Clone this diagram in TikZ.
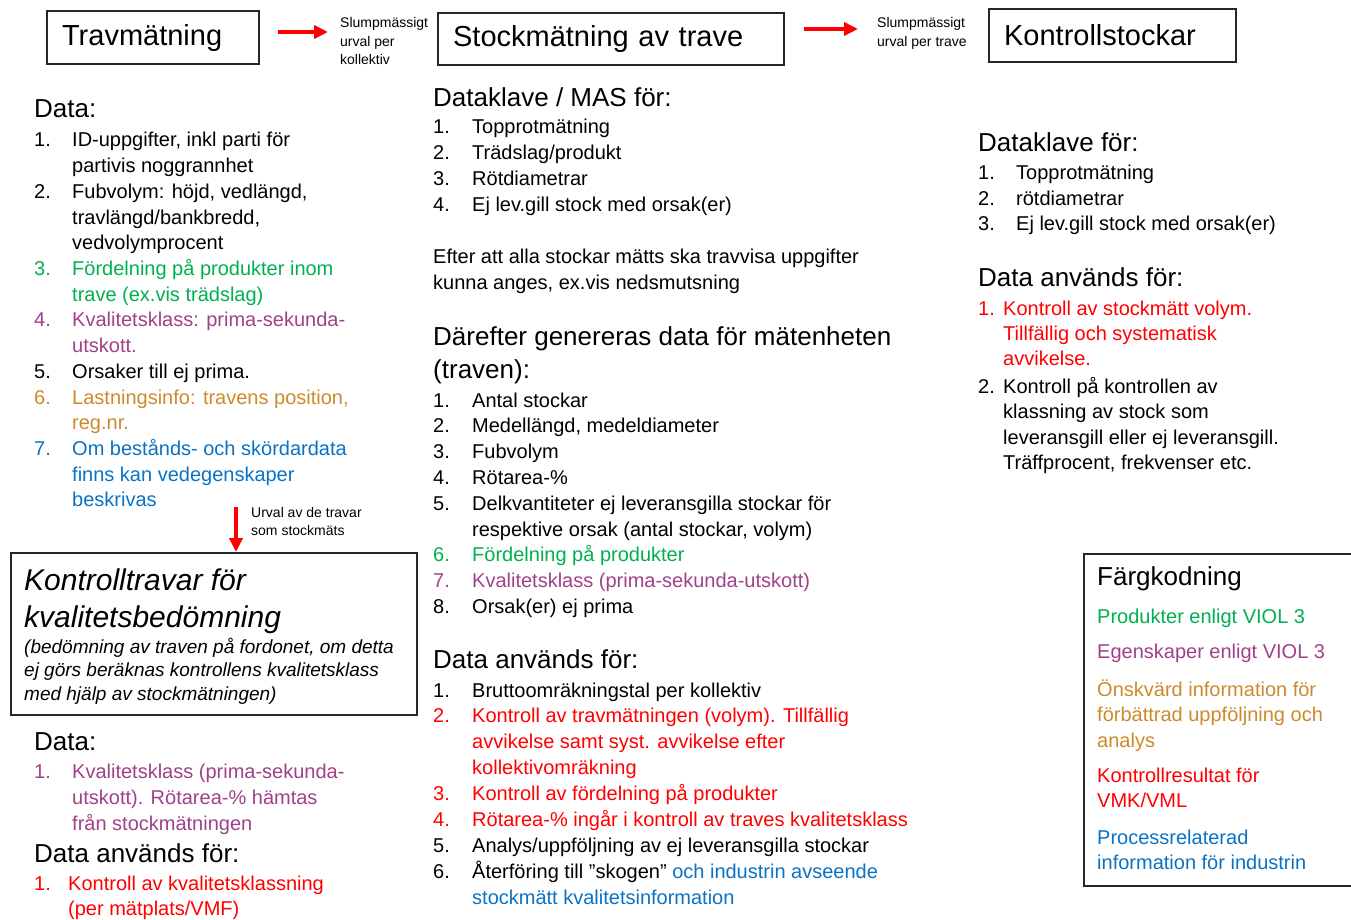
\documentclass[tikz,border=0pt]{standalone}
\usepackage{fontspec}
\setmainfont{Liberation Sans}
\usepackage{xcolor}
\usetikzlibrary{arrows.meta,positioning}
\definecolor{viol}{HTML}{00B050}
\definecolor{egen}{HTML}{A0408A}
\definecolor{onsk}{HTML}{CC8A2C}
\definecolor{ktrl}{HTML}{FF0000}
\definecolor{proc}{HTML}{0A72C4}
\newcommand{\fsz}[2]{\fontsize{#1}{#2}\selectfont}
\newcommand{\li}[3]{\textcolor{#1}{#2}&\textcolor{#1}{#3}\\}
\newcommand{\lines}[1]{\begin{tabular}[t]{@{}l@{}}#1\end{tabular}}

\begin{document}
\begin{tikzpicture}[x=1pt,y=-1pt,
  box/.style={draw=black!85,line width=2.2pt,anchor=north west,inner xsep=15pt,align=left,font=\fsz{29}{35}},
  frame/.style={draw=black!85,line width=2.2pt,anchor=north west,inner sep=0pt},
  head/.style={anchor=base west,inner sep=0pt,font=\fsz{26}{33}},
  txt/.style={anchor=base west,inner sep=0pt,font=\fsz{20}{25.8}},
  tag/.style={anchor=base west,inner sep=0pt,font=\fsz{14}{18.5}},
  red arrow/.style={-{Triangle[length=14pt,width=13pt]},ktrl,line width=4pt}]
\useasboundingbox (0,0) rectangle (1351,920);
\node[box,text width=182pt,minimum height=53pt] (trav) at (46,10) {Travmätning};
\node[box,text width=316pt,minimum height=52pt] (stock) at (437,12) {Stockmätning av trave};
\node[box,text width=217pt,minimum height=53pt] (kstock) at (988,8) {Kontrollstockar};
\coordinate (a1s) at (278,32);
\coordinate (a1e) at (328,32);
\coordinate (a2s) at (804,29);
\coordinate (a2e) at (858,29);
\draw[red arrow] (a1s) -- (a1e);
\draw[red arrow] (a2s) -- (a2e);
\node[tag] (tag1) at (340,28) {\lines{Slumpmässigt\\urval per\\kollektiv}};
\node[tag] (tag2) at (877,28) {\lines{Slumpmässigt\\urval per trave}};

\node[head] (ldata) at (34,118) {Data:};
\node[txt,font=\fsz{20}{25.7}] (llist) at (34,147) {\begin{tabular}[t]{@{}p{38pt}@{}l@{}}
\li{black}{1.}{ID-uppgifter, inkl parti för}
\li{black}{}{partivis noggrannhet}
\li{black}{2.}{Fubvolym: höjd, vedlängd,}
\li{black}{}{travlängd/bankbredd,}
\li{black}{}{vedvolymprocent}
\li{viol}{3.}{Fördelning på produkter inom}
\li{viol}{}{trave (ex.vis trädslag)}
\li{egen}{4.}{Kvalitetsklass: prima-sekunda-}
\li{egen}{}{utskott.}
\li{black}{5.}{Orsaker till ej prima.}
\li{onsk}{6.}{Lastningsinfo: travens position,}
\li{onsk}{}{reg.nr.}
\li{proc}{7.}{Om bestånds- och skördardata}
\li{proc}{}{finns kan vedegenskaper}
\li{proc}{}{beskrivas}
\end{tabular}};
\node[frame,minimum width=406pt,minimum height=162pt] (ktrav) at (10,552) {};
\coordinate (urval) at (236,507);
\draw[red arrow] (urval) -- (urval |- ktrav.north);
\node[tag] (urvaltag) at (251,517) {\lines{Urval av de travar\\som stockmäts}};
\node[txt,font=\itshape\fsz{30}{37}] (ktravtitle) at (24,590) {\lines{Kontrolltravar för\\kvalitetsbedömning}};
\node[txt,font=\itshape\fsz{19}{23.5}] (ktravsub) at (24,653) {\lines{(bedömning av traven på fordonet, om detta\\ej görs beräknas kontrollens kvalitetsklass\\med hjälp av stockmätningen)}};
\node[head] (ldata2) at (34,750) {Data:};
\node[txt,font=\fsz{20}{26}] (lq) at (34,778) {\begin{tabular}[t]{@{}p{38pt}@{}l@{}}
\li{egen}{1.}{Kvalitetsklass (prima-sekunda-}
\li{egen}{}{utskott). Rötarea-\% hämtas}
\li{egen}{}{från stockmätningen}
\end{tabular}};
\node[head] (lused) at (34,862) {Data används för:};
\node[txt,font=\fsz{20}{25.7}] (luse) at (34,890) {\begin{tabular}[t]{@{}p{34pt}@{}l@{}}
\li{ktrl}{1.}{Kontroll av kvalitetsklassning}
\li{ktrl}{}{(per mätplats/VMF)}
\end{tabular}};

\node[head] (mdata) at (433,107) {Dataklave / MAS för:};
\node[txt,font=\fsz{20}{26}] (mklave) at (433,134) {\begin{tabular}[t]{@{}p{39pt}@{}l@{}}
\li{black}{1.}{Topprotmätning}
\li{black}{2.}{Trädslag/produkt}
\li{black}{3.}{Rötdiametrar}
\li{black}{4.}{Ej lev.gill stock med orsak(er)}
\end{tabular}};
\node[txt,font=\fsz{20}{26}] (mafter) at (433,263) {\lines{Efter att alla stockar mätts ska travvisa uppgifter\\kunna anges, ex.vis nedsmutsning}};
\node[head] (mgen) at (433,345) {\lines{Därefter genereras data för mätenheten\\(traven):}};
\node[txt,font=\fsz{20}{25.8}] (mtrav) at (433,407) {\begin{tabular}[t]{@{}p{39pt}@{}l@{}}
\li{black}{1.}{Antal stockar}
\li{black}{2.}{Medellängd, medeldiameter}
\li{black}{3.}{Fubvolym}
\li{black}{4.}{Rötarea-\%}
\li{black}{5.}{Delkvantiteter ej leveransgilla stockar för}
\li{black}{}{respektive orsak (antal stockar, volym)}
\li{viol}{6.}{Fördelning på produkter}
\li{egen}{7.}{Kvalitetsklass (prima-sekunda-utskott)}
\li{black}{8.}{Orsak(er) ej prima}
\end{tabular}};
\node[head] (mused) at (433,668) {Data används för:};
\node[txt,font=\fsz{20}{25.9}] (muse) at (433,697) {\begin{tabular}[t]{@{}p{39pt}@{}l@{}}
\li{black}{1.}{Bruttoomräkningstal per kollektiv}
\li{ktrl}{2.}{Kontroll av travmätningen (volym). Tillfällig}
\li{ktrl}{}{avvikelse samt syst. avvikelse efter}
\li{ktrl}{}{kollektivomräkning}
\li{ktrl}{3.}{Kontroll av fördelning på produkter}
\li{ktrl}{4.}{Rötarea-\% ingår i kontroll av traves kvalitetsklass}
\li{black}{5.}{Analys/uppföljning av ej leveransgilla stockar}
\li{black}{6.}{Återföring till ”skogen” \textcolor{proc}{och industrin avseende}}
\li{proc}{}{stockmätt kvalitetsinformation}
\end{tabular}};

\node[head] (rdata) at (978,152) {Dataklave för:};
\node[txt,font=\fsz{20}{25.5}] (rklave) at (978,180) {\begin{tabular}[t]{@{}p{38pt}@{}l@{}}
\li{black}{1.}{Topprotmätning}
\li{black}{2.}{rötdiametrar}
\li{black}{3.}{Ej lev.gill stock med orsak(er)}
\end{tabular}};
\node[head] (rused) at (978,286) {Data används för:};
\node[txt,font=\fsz{20}{25.3}] (ruse) at (978,315) {\begin{tabular}[t]{@{}p{25pt}@{}l@{}}
\li{ktrl}{1.}{Kontroll av stockmätt volym.}
\li{ktrl}{}{Tillfällig och systematisk}
\textcolor{ktrl}{}&\textcolor{ktrl}{avvikelse.}\\[2.5pt]
\li{black}{2.}{Kontroll på kontrollen av}
\li{black}{}{klassning av stock som}
\li{black}{}{leveransgill eller ej leveransgill.}
\li{black}{}{Träffprocent, frekvenser etc.}
\end{tabular}};

\node[frame,minimum width=285pt,minimum height=332pt] (legend) at (1083,553) {};
\node[head] (legtitle) at (1097,585) {Färgkodning};
\node[txt,text=viol] (legviol) at (1097,623) {Produkter enligt VIOL 3};
\node[txt,text=egen] (legegen) at (1097,658) {Egenskaper enligt VIOL 3};
\node[txt,text=onsk] (legonsk) at (1097,696) {\lines{Önskvärd information för\\förbättrad uppföljning och\\analys}};
\node[txt,text=ktrl] (legktrl) at (1097,782) {\lines{Kontrollresultat för\\VMK/VML}};
\node[txt,text=proc] (legproc) at (1097,844) {\lines{Processrelaterad\\information för industrin}};
\end{tikzpicture}
\end{document}
